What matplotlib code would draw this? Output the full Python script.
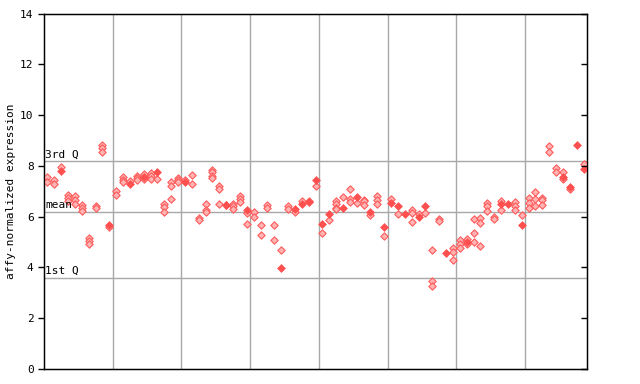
import matplotlib
matplotlib.use("Agg")
import matplotlib.pyplot as plt

# replicate values per sample (hollow markers)
hollow = [
    [7.55, 7.35], [7.45, 7.3], [7.95], [6.86, 6.73, 6.63], [6.8, 6.66, 6.5],
    [6.47, 6.36, 6.23], [5.15, 5.05, 4.93], [6.4, 6.34], [8.83, 8.7, 8.55], [5.59],
    [7.02, 6.86], [7.55, 7.45, 7.35], [7.42], [7.62, 7.52, 7.43], [7.68, 7.48],
    [7.72, 7.61, 7.48], [7.48], [6.51, 6.37, 6.2], [7.35, 7.19, 6.69], [7.52, 7.43, 7.35],
    [7.45], [7.65, 7.3], [5.95, 5.87], [6.51, 6.27, 6.2], [7.85, 7.74, 7.62, 7.52],
    [7.2, 7.1, 6.51], [6.47], [6.51, 6.4, 6.31], [6.8, 6.69, 6.56], [6.14, 5.71],
    [6.2, 6.0], [5.67, 5.27], [6.47, 6.34], [5.67, 5.09], [4.69], [6.43, 6.32],
    [6.18], [6.6], [6.63], [7.19],
    [5.35], [5.88], [6.63, 6.51, 6.36, 6.29], [6.77], [7.08, 6.69, 6.59], [6.53],
    [6.66, 6.6, 6.47], [6.05], [6.82, 6.66, 6.51], [5.23],
    [6.69], [6.11], [], [6.27, 6.14, 5.79], [6.11], [6.14], [4.69, 3.48, 3.27],
    [5.9, 5.81], [], [4.76, 4.6, 4.3],
    [5.09, 4.92, 4.76], [5.11, 4.92], [5.92, 5.35, 5.0], [5.94, 5.74, 4.85],
    [6.53, 6.43, 6.23], [5.98, 5.9], [6.6, 6.27], [], [6.56, 6.43, 6.27], [6.07],
    [6.73, 6.53, 6.36], [6.98, 6.69, 6.43], [6.73, 6.66, 6.47], [8.79, 8.55],
    [7.91, 7.76], [7.77, 7.48], [7.08], [], [8.07],
]
# solid-marker value per sample (None if none)
solid = [
    None, None, 7.8, None, None, None, None, None, None, 5.68,
    None, None, 7.3, None, 7.55, None, 7.76, None, None, None,
    7.35, None, None, None, None, None, 6.47, None, None, 6.27,
    None, None, None, None, 3.97, None, 6.31, 6.51, 6.56, 7.43,
    5.72, 6.11, None, 6.34, None, 6.76, None, 6.2, None, 5.61,
    6.53, 6.43, 6.11, None, 5.97, 6.4, None, None, 4.56, None,
    None, 5.02, None, None, None, None, 6.51, 6.51, None, 5.68,
    None, None, None, None, None, 7.55, 7.16, 8.81, 7.89,
]

q1, mean_v, q3 = 3.6, 6.2, 8.2
yticks = [0, 2, 4, 6, 8, 10, 12, 14]
group_size = 10

fig = plt.figure(figsize=(6.4, 3.84), dpi=100)
ax = fig.add_axes([44 / 640, 15 / 384, 543 / 640, 355.5 / 384])

n = len(hollow)
hx, hy = [], []
for i, vals in enumerate(hollow):
    for v in vals:
        hx.append(i)
        hy.append(v)
sx = [i for i, v in enumerate(solid) if v is not None]
sy = [v for v in solid if v is not None]

for b in range(group_size, n, group_size):
    ax.axvline(b - 0.5, color="#a8a8a8", lw=1, zorder=1)
for v in (q1, mean_v, q3):
    ax.axhline(v, color="#a8a8a8", lw=1, zorder=1)

ax.scatter(hx, hy, marker="D", s=14, facecolor="#ffb3b3", edgecolor="#ff5a5a",
           linewidths=0.8, zorder=3)
ax.scatter(sx, sy, marker="D", s=16, facecolor="#ff5050", edgecolor="#ff5050",
           linewidths=0.5, zorder=4)

ax.set_xlim(-0.5, n - 0.5)
ax.set_ylim(0, 14)
ax.set_xticks([])
ax.set_yticks(yticks)
ax.set_yticklabels([str(t) for t in yticks], family="DejaVu Sans Mono", fontsize=8)
ax.tick_params(axis="y", length=4, width=1, direction="out")
for s in ax.spines.values():
    s.set_linewidth(1)

ax2 = ax.twinx()
ax2.set_ylim(0, 14)
ax2.set_yticks(yticks)
ax2.set_yticklabels([])
ax2.tick_params(axis="y", length=4, width=1, direction="in")

for v, lab in ((q3, "3rd Q"), (mean_v, "mean"), (q1, "1st Q")):
    ax.text(-0.3, v + 0.06, lab, family="DejaVu Sans Mono", fontsize=8,
            ha="left", va="bottom", zorder=5)

ax.set_ylabel("affy-normalized expression", family="DejaVu Sans Mono", fontsize=8,
              labelpad=3)

fig.savefig("out.png", dpi=100)
